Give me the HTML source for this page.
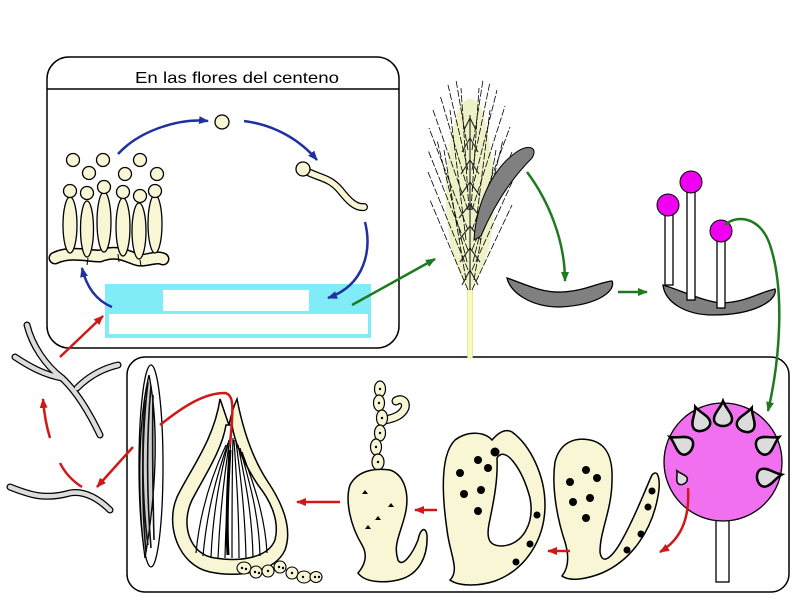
<!DOCTYPE html>
<html><head><meta charset="utf-8"><style>
html,body{margin:0;padding:0;background:#fff;}
svg{display:block;}
</style></head><body>
<svg width="800" height="600" viewBox="0 0 800 600" xmlns="http://www.w3.org/2000/svg">
<defs>
<marker id="ar" markerWidth="10" markerHeight="8" refX="9" refY="4" orient="auto" markerUnits="userSpaceOnUse"><path d="M0,0 L10,4 L0,8 Z" fill="#d01818"/></marker>
<marker id="ag" markerWidth="10" markerHeight="8" refX="9" refY="4" orient="auto" markerUnits="userSpaceOnUse"><path d="M0,0 L10,4 L0,8 Z" fill="#1e7a1e"/></marker>
<marker id="ab" markerWidth="10" markerHeight="8" refX="9" refY="4" orient="auto" markerUnits="userSpaceOnUse"><path d="M0,0 L10,4 L0,8 Z" fill="#2030a0"/></marker>
</defs>
<rect width="800" height="600" fill="#fff"/>

<!-- top box -->
<rect x="47" y="57" width="352" height="291" rx="22" fill="#fff" stroke="#000" stroke-width="1.5"/>
<line x1="47" y1="89" x2="399" y2="89" stroke="#000" stroke-width="1.5"/>
<text x="237" y="83" text-anchor="middle" font-family="Liberation Sans, Arial, sans-serif" font-size="16" textLength="204" lengthAdjust="spacingAndGlyphs" fill="#000">En las flores del centeno</text>

<!-- cyan block -->
<rect x="105" y="284" width="266" height="54" fill="#80ecf8"/>
<rect x="163" y="290" width="146" height="21" fill="#fff"/>
<rect x="109" y="314" width="259" height="20" fill="#fff"/>

<!-- conidiophores base -->
<path d="M55,258 C 70,251 88,256 100,256 C 115,250 125,255 135,259 C 146,263 155,255 163,259" fill="none" stroke="#000" stroke-width="13" stroke-linecap="round"/>
<path d="M55,258 C 70,251 88,256 100,256 C 115,250 125,255 135,259 C 146,263 155,255 163,259" fill="none" stroke="#f8f6d4" stroke-width="10" stroke-linecap="round"/>
<g fill="#f8f6d4" stroke="#000" stroke-width="1.3">
<ellipse cx="70" cy="225" rx="7" ry="28"/>
<ellipse cx="87" cy="229" rx="6.5" ry="28"/>
<ellipse cx="104" cy="222" rx="7" ry="30"/>
<ellipse cx="123" cy="227" rx="7" ry="29"/>
<ellipse cx="139" cy="231" rx="7" ry="28"/>
<ellipse cx="155" cy="224" rx="7" ry="29"/>
<circle cx="70" cy="191" r="6.5"/>
<circle cx="87" cy="193" r="6.5"/>
<circle cx="104" cy="187" r="6.5"/>
<circle cx="123" cy="192" r="6.5"/>
<circle cx="140" cy="196" r="6.5"/>
<circle cx="155" cy="191" r="6.5"/>
<circle cx="73" cy="160" r="6.5"/>
<circle cx="89" cy="173" r="6.5"/>
<circle cx="103" cy="160" r="6.5"/>
<circle cx="125" cy="174" r="6.5"/>
<circle cx="140" cy="160" r="6.5"/>
<circle cx="157" cy="174" r="6.5"/>
<circle cx="222" cy="122" r="7"/>
</g>
<line x1="88" y1="258" x2="87" y2="265" stroke="#000"/>
<line x1="118" y1="254" x2="119" y2="262" stroke="#000"/>
<line x1="140" y1="260" x2="141" y2="266" stroke="#000"/>

<!-- germinating spore -->
<path d="M308,172 C 320,178 330,178 340,190 C 348,200 355,208 364,207" fill="none" stroke="#000" stroke-width="8" stroke-linecap="round"/>
<path d="M308,172 C 320,178 330,178 340,190 C 348,200 355,208 364,207" fill="none" stroke="#f8f6d4" stroke-width="5.5" stroke-linecap="round"/>
<circle cx="303" cy="169" r="7" fill="#f8f6d4" stroke="#000" stroke-width="1.3"/>

<!-- blue arrows -->
<g fill="none" stroke="#2030a0" stroke-width="2.5">
<path d="M118,154 C 140,130 180,118 208,121" marker-end="url(#ab)"/>
<path d="M244,121 C 275,125 300,140 317,160" marker-end="url(#ab)"/>
<path d="M365,222 C 372,250 365,285 328,298" marker-end="url(#ab)"/>
<path d="M112,307 C 95,300 86,285 82,268" marker-end="url(#ab)"/>
</g>

<!-- lower box -->
<rect x="127" y="357" width="662" height="235" rx="18" fill="none" stroke="#000" stroke-width="1.5"/>

<!-- rye ear -->
<rect x="467.5" y="288" width="5" height="70" fill="#fbfbb8" stroke="#d8d890" stroke-width="0.6"/>
<path d="M470,292 C 440,250 440,170 458,110 C 465,95 476,95 482,110 C 500,170 500,250 470,292 Z" fill="#eef2c6"/>
<g stroke="#000" stroke-width="0.8" stroke-dasharray="7 2" fill="none">
<line x1="468" y1="290" x2="430" y2="200"/>
<line x1="468" y1="270" x2="428" y2="172"/>
<line x1="468" y1="250" x2="428" y2="150"/>
<line x1="468" y1="230" x2="429" y2="128"/>
<line x1="468" y1="210" x2="433" y2="110"/>
<line x1="468" y1="190" x2="440" y2="95"/>
<line x1="468" y1="170" x2="448" y2="85"/>
<line x1="468" y1="150" x2="456" y2="80"/>
<line x1="472" y1="290" x2="512" y2="205"/>
<line x1="472" y1="270" x2="514" y2="178"/>
<line x1="472" y1="250" x2="512" y2="152"/>
<line x1="472" y1="230" x2="510" y2="127"/>
<line x1="472" y1="210" x2="505" y2="106"/>
<line x1="472" y1="190" x2="497" y2="90"/>
<line x1="472" y1="170" x2="490" y2="82"/>
<line x1="472" y1="150" x2="483" y2="80"/>
<line x1="466" y1="280" x2="444" y2="150"/>
<line x1="474" y1="280" x2="496" y2="150"/>
<line x1="466" y1="240" x2="450" y2="110"/>
<line x1="474" y1="240" x2="490" y2="110"/>
<line x1="469" y1="210" x2="461" y2="88"/>
<line x1="471" y1="210" x2="479" y2="88"/>
<line x1="467" y1="262" x2="437" y2="140"/>
<line x1="473" y1="262" x2="503" y2="140"/>
</g>
<g stroke="#222" stroke-width="1.1" fill="none">
<path d="M462,285 L470,270 L478,285"/>
<path d="M460,262 L470,248 L480,262"/>
<path d="M459,240 L470,226 L481,240"/>
<path d="M459,218 L470,204 L481,218"/>
<path d="M460,196 L470,182 L480,196"/>
<path d="M461,174 L470,160 L479,174"/>
<path d="M462,152 L470,138 L478,152"/>
<path d="M464,130 L470,118 L476,130"/>
<line x1="470" y1="290" x2="470" y2="115"/>
</g>
<path d="M474,240 C 476,205 492,168 518,151 C 530,144 538,148 532,158 C 512,178 494,205 481,236 Z" fill="#808080" stroke="#000" stroke-width="1"/>

<!-- sclerotium 2 -->
<path d="M507,278 C 520,282 540,293 562,292 C 585,291 600,282 612,281 C 616,290 600,305 560,307 C 530,307 510,292 507,278 Z" fill="#808080" stroke="#000" stroke-width="1.3"/>

<!-- sclerotium 3 with stromata -->
<path d="M663,285 C 680,290 700,300 720,303 C 745,303 760,292 775,289 C 778,300 755,315 713,315 C 685,315 665,302 663,285 Z" fill="#808080" stroke="#000" stroke-width="1.3"/>
<g fill="#fff" stroke="#000" stroke-width="1.3">
<rect x="665" y="212" width="8" height="73"/>
<rect x="687" y="188" width="8" height="112"/>
<rect x="717" y="238" width="8" height="70"/>
</g>
<g fill="#f000f0" stroke="#000" stroke-width="1">
<circle cx="668" cy="205" r="11"/>
<circle cx="691" cy="182" r="11"/>
<circle cx="721" cy="231" r="11"/>
</g>

<!-- green arrows -->
<g fill="none" stroke="#1e7a1e" stroke-width="2.5">
<path d="M352,305 L435,259" marker-end="url(#ag)"/>
<path d="M527,172 C 548,200 565,240 565,281" marker-end="url(#ag)"/>
<path d="M618,292 L647,292" marker-end="url(#ag)"/>
<path d="M725,225 C 735,215 760,215 770,245 C 785,290 780,360 768,411" marker-end="url(#ag)"/>
</g>

<!-- stroma head -->
<rect x="716" y="515" width="13" height="67" fill="#fff" stroke="#000" stroke-width="1.3"/>
<circle cx="723" cy="462" r="59" fill="#f070f0" stroke="#000" stroke-width="1.3"/>
<g fill="#dcdcdc" stroke="#000" stroke-width="2.5">
<path transform="translate(700,420) rotate(-20)" d="M0,-14 C 3,-6 9,-2 9,4 C 9,9 4,11 0,11 C -4,11 -9,9 -9,4 C -9,-2 -3,-6 0,-14 Z"/>
<path transform="translate(723,415)" d="M0,-14 C 3,-6 9,-2 9,4 C 9,9 4,11 0,11 C -4,11 -9,9 -9,4 C -9,-2 -3,-6 0,-14 Z"/>
<path transform="translate(747,421) rotate(20)" d="M0,-14 C 3,-6 9,-2 9,4 C 9,9 4,11 0,11 C -4,11 -9,9 -9,4 C -9,-2 -3,-6 0,-14 Z"/>
<path transform="translate(682,444) rotate(-60)" d="M0,-14 C 3,-6 9,-2 9,4 C 9,9 4,11 0,11 C -4,11 -9,9 -9,4 C -9,-2 -3,-6 0,-14 Z"/>
<path transform="translate(767,444) rotate(60)" d="M0,-14 C 3,-6 9,-2 9,4 C 9,9 4,11 0,11 C -4,11 -9,9 -9,4 C -9,-2 -3,-6 0,-14 Z"/>
<path transform="translate(768,477) rotate(80)" d="M0,-14 C 3,-6 9,-2 9,4 C 9,9 4,11 0,11 C -4,11 -9,9 -9,4 C -9,-2 -3,-6 0,-14 Z"/>
<path transform="translate(681,478) rotate(-30) scale(0.6)" d="M0,-14 C 3,-6 9,-2 9,4 C 9,9 4,11 0,11 C -4,11 -9,9 -9,4 C -9,-2 -3,-6 0,-14 Z"/>
</g>

<!-- shape B -->
<path d="M562,576 C 570,566 568,552 565,542 C 555,512 552,482 555,462 C 560,442 575,437 590,440 C 605,443 613,455 612,480 C 612,510 600,530 600,552 C 602,566 612,558 622,540 C 636,515 645,490 652,475 C 658,468 661,480 658,496 C 652,530 632,560 602,573 C 587,579 570,582 562,576 Z" fill="#f8f6d4" stroke="#000" stroke-width="1.5"/>
<g fill="#000">
<circle cx="570" cy="482" r="4"/><circle cx="586" cy="470" r="4"/><circle cx="597" cy="478" r="4"/>
<circle cx="573" cy="502" r="4"/><circle cx="590" cy="498" r="4"/><circle cx="586" cy="518" r="4"/>
<circle cx="652" cy="491" r="3.5"/><circle cx="648" cy="507" r="3.5"/><circle cx="641" cy="534" r="3.5"/><circle cx="627" cy="550" r="3.5"/>
</g>

<!-- shape A -->
<path d="M450,580 C 460,570 450,555 447,530 C 442,495 440,455 455,440 C 468,430 485,432 492,440 C 498,433 505,428 512,432 C 530,445 545,475 545,505 C 545,540 525,570 495,581 C 480,586 460,587 450,580 Z" fill="#f8f6d4" stroke="#000" stroke-width="1.5"/>
<path d="M497,458 C 505,445 522,468 530,498 C 535,524 522,545 502,546 C 490,546 486,540 489,524 C 494,500 498,480 497,458 Z" fill="#fff" stroke="#000" stroke-width="1.5"/>
<g fill="#000">
<circle cx="460" cy="473" r="4"/><circle cx="478" cy="460" r="4"/><circle cx="488" cy="468" r="4"/>
<circle cx="464" cy="494" r="4"/><circle cx="481" cy="490" r="4"/><circle cx="478" cy="511" r="4"/>
<circle cx="495" cy="452" r="4.5"/>
<circle cx="537" cy="515" r="3.5"/><circle cx="530" cy="544" r="3.5"/><circle cx="516" cy="562" r="3.5"/>
</g>

<!-- ascogonium (middle) -->
<path d="M385,420 C 395,418 402,415 405,408 C 407,400 400,398 396,401" fill="none" stroke="#000" stroke-width="9" stroke-linecap="round"/>
<path d="M385,420 C 395,418 402,415 405,408 C 407,400 400,398 396,401" fill="none" stroke="#f8f6d4" stroke-width="6.5" stroke-linecap="round"/>
<g fill="#f8f6d4" stroke="#000" stroke-width="1.2">
<ellipse cx="380" cy="389" rx="5.5" ry="8"/>
<ellipse cx="379" cy="403" rx="5.5" ry="8"/>
<ellipse cx="382" cy="418" rx="5.5" ry="8"/>
<ellipse cx="380" cy="433" rx="5.5" ry="8"/>
<ellipse cx="376" cy="447" rx="5.5" ry="8"/>
<ellipse cx="378" cy="462" rx="6" ry="8"/>
</g>
<path d="M358,573 C 365,565 368,555 362,545 C 350,525 345,500 350,485 C 358,470 375,468 390,470 C 405,475 410,495 405,515 C 400,535 393,545 398,560 C 402,568 412,555 418,540 C 420,530 425,525 427,535 C 428,555 420,575 398,580 C 385,583 365,583 358,573 Z" fill="#f8f6d4" stroke="#000" stroke-width="1.5"/>
<g fill="#000">
<path d="M362,494 l3,-4 l3,4 z"/><path d="M388,507 l3,-4 l3,4 z"/><path d="M375,520 l3,-4 l3,4 z"/><path d="M365,529 l3,-4 l3,4 z"/>
<circle cx="380" cy="389" r="1.2"/><circle cx="379" cy="403" r="1.2"/><circle cx="382" cy="418" r="1.2"/><circle cx="380" cy="433" r="1.2"/><circle cx="376" cy="447" r="1.2"/><circle cx="378" cy="462" r="1.2"/>
</g>

<!-- perithecium flask -->
<path d="M220,399 C 214,440 190,470 177,497 C 165,525 178,565 210,572 C 240,578 275,572 285,550 C 293,528 282,503 268,482 C 252,458 243,430 237,399 C 232,410 230,420 229,425 C 227,420 224,410 220,399 Z" fill="#f8f6d4" stroke="#000" stroke-width="1.5"/>
<path d="M226,425 C 222,450 205,475 192,500 C 180,525 190,555 215,558 C 240,562 268,558 275,540 C 280,520 270,500 258,485 C 245,465 235,445 232,425 Z" fill="#fff" stroke="#000" stroke-width="1.5"/>
<g stroke="#000" stroke-width="1.2" fill="none">
<path d="M196,553 C 200,510 212,475 226,445"/>
<path d="M203,556 C 207,510 217,475 228,443"/>
<path d="M211,557 C 213,510 221,472 229,440"/>
<path d="M218,558 C 220,510 225,470 230,438"/>
<path d="M225,558 C 226,510 229,470 231,437"/>
<path d="M232,558 C 232,510 232,470 233,438"/>
<path d="M239,558 C 239,510 236,472 234,440"/>
<path d="M246,558 C 245,510 240,472 236,442"/>
<path d="M253,557 C 252,510 244,475 238,445"/>
<path d="M260,556 C 259,512 248,478 240,448"/>
<path d="M267,553 C 265,515 253,482 242,452"/>
</g>
<path d="M230,450 C 228,480 226,520 228,555" stroke="#000" stroke-width="3" fill="none"/>
<g fill="#f8f6d4" stroke="#000" stroke-width="1.1">
<ellipse cx="244" cy="568" rx="7" ry="6"/>
<ellipse cx="256" cy="572" rx="6" ry="6"/>
<ellipse cx="268" cy="571" rx="6" ry="6"/>
<ellipse cx="280" cy="567" rx="6" ry="6"/>
<ellipse cx="292" cy="573" rx="6" ry="6"/>
<ellipse cx="304" cy="577" rx="7" ry="6"/>
<ellipse cx="316" cy="577" rx="6" ry="5.5"/>
</g>
<g fill="#000">
<circle cx="242" cy="568" r="1.2"/><circle cx="246" cy="569" r="1.2"/><circle cx="255" cy="572" r="1.2"/><circle cx="259" cy="573" r="1.2"/><circle cx="268" cy="571" r="1.2"/><circle cx="279" cy="567" r="1.2"/><circle cx="283" cy="568" r="1.2"/><circle cx="292" cy="573" r="1.2"/><circle cx="303" cy="577" r="1.2"/><circle cx="315" cy="577" r="1.2"/><circle cx="319" cy="577" r="1.2"/>
</g>

<!-- ascus bundle -->
<ellipse cx="151" cy="466" rx="12" ry="101" fill="#fff" stroke="#000" stroke-width="1.3"/>
<path d="M149,375 C 138,420 137,500 145,558 C 155,500 160,430 149,375 Z" fill="#cfcfcf" stroke="#000" stroke-width="1.3"/>
<g stroke="#111" stroke-width="1.6" fill="none">
<path d="M148,382 C 142,430 141,500 146,552"/>
<path d="M151,386 C 146,440 147,500 151,548"/>
<path d="M153,395 C 152,450 153,500 154,540"/>
<path d="M145,400 C 141,450 143,510 148,545"/>
</g>

<!-- left hyphae -->
<g fill="none" stroke="#000" stroke-width="7" stroke-linecap="round">
<path d="M27,325 C 32,345 45,365 62,378 C 75,390 88,410 100,435"/>
<path d="M15,357 C 30,367 45,375 62,378"/>
<path d="M77,388 C 90,375 105,368 118,365"/>
<path d="M10,487 C 30,495 45,500 70,493 C 85,490 100,500 110,510"/>
</g>
<g fill="none" stroke="#dcdcdc" stroke-width="4.5" stroke-linecap="round">
<path d="M27,325 C 32,345 45,365 62,378 C 75,390 88,410 100,435"/>
<path d="M15,357 C 30,367 45,375 62,378"/>
<path d="M77,388 C 90,375 105,368 118,365"/>
<path d="M10,487 C 30,495 45,500 70,493 C 85,490 100,500 110,510"/>
</g>

<!-- red arrows -->
<g fill="none" stroke="#d01818" stroke-width="2.5">
<path d="M60,357 L103,316" marker-end="url(#ar)"/>
<path d="M50,438 C 46,425 44,412 43,399" marker-end="url(#ar)"/>
<path d="M60,463 C 66,475 74,482 82,487"/>
<path d="M133,447 L97,487" marker-end="url(#ar)"/>
<path d="M340,502 L297,502" marker-end="url(#ar)"/>
<path d="M437,510 L415,510" marker-end="url(#ar)"/>
<path d="M570,551 L548,551" marker-end="url(#ar)"/>
<path d="M688,488 C 690,520 680,540 660,552" marker-end="url(#ar)"/>
<path d="M160,425 C 185,405 205,393 225,393 C 235,395 233,410 230,445"/>
</g>
</svg>
</body></html>
